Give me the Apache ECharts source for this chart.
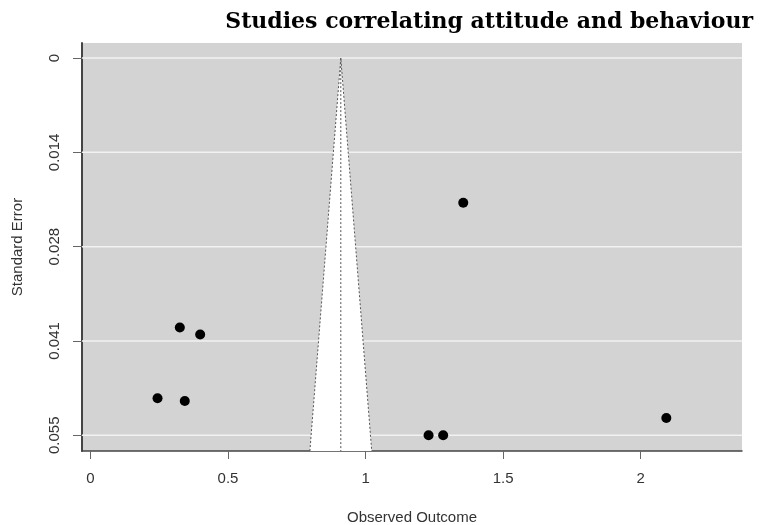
<!DOCTYPE html>
<html>
<head>
<meta charset="utf-8">
<script src="https://cdn.jsdelivr.net/npm/echarts@6/dist/echarts.min.js"></script>
<style>
  html, body { margin: 0; padding: 0; background: #fff; }
  #funnel { width: 760px; height: 525px; }
</style>
</head>
<body>
<div id="funnel"></div>
<script>
// 研究数据：效应值与标准误
var outcomes = [1.355, 0.325, 0.399, 0.244, 0.343, 1.229, 1.282, 2.093];
var stdErrors = [0.0211, 0.0393, 0.0403, 0.0496, 0.0500, 0.0550, 0.0550, 0.0525];
var estimate = 0.91; // 合并效应
// 刻度
var xTicks = [0, 0.5, 1, 1.5, 2];
var xTickLabels = ['0', '0.5', '1', '1.5', '2'];
var yTicks = [0, 0.01375, 0.0275, 0.04125, 0.055];
var yTickLabels = ['0', '0.014', '0.028', '0.041', '0.055'];

var xMin = -0.0305, xMax = 2.368;
var yMin = -0.0022, yMax = 0.0573;
var seBot = yMax; // 漏斗底部

var points = outcomes.map(function (x, i) { return [x, stdErrors[i]]; });
var funnelEdge = [
  [estimate - 1.96 * seBot, seBot],
  [estimate, 0],
  [estimate + 1.96 * seBot, seBot]
];

var axisFont = { fontFamily: 'Liberation Sans', fontSize: 15, color: '#333' };
var dotted = { color: '#555', type: [2, 2], width: 1 };

var myChart = echarts.init(document.getElementById('funnel'));
myChart.setOption({
  animation: false,
  backgroundColor: '#fff',
  title: {
    text: 'Studies correlating attitude and behaviour',
    right: 2,
    top: 6,
    textStyle: {
      fontFamily: 'DejaVu Serif',
      fontWeight: 'bold',
      fontSize: 22,
      color: '#000'
    }
  },
  grid: {
    left: 82,
    right: 18,
    top: 43,
    bottom: 74,
    outerBoundsMode: 'none',
    containLabel: false,
    show: true,
    backgroundColor: '#d3d3d3',
    borderWidth: 0
  },
  xAxis: {
    type: 'value',
    min: xMin,
    max: xMax,
    name: 'Observed Outcome',
    nameLocation: 'middle',
    nameGap: 59,
    nameTextStyle: axisFont,
    axisLine: { onZero: false, lineStyle: { color: '#444', width: 1.5 } },
    axisTick: { customValues: xTicks, length: 8, lineStyle: { color: '#666' } },
    axisLabel: Object.assign({
      customValues: xTicks,
      margin: 20,
      formatter: function (v) { return xTickLabels[xTicks.indexOf(v)]; }
    }, axisFont),
    splitLine: { show: false }
  },
  yAxis: {
    type: 'value',
    inverse: true,
    min: yMin,
    max: yMax,
    name: 'Standard Error',
    nameLocation: 'middle',
    nameGap: 57,
    nameTextStyle: axisFont,
    axisLine: { onZero: false, lineStyle: { color: '#444', width: 2 } },
    axisTick: { customValues: yTicks, length: 9, lineStyle: { color: '#666' } },
    axisLabel: Object.assign({
      customValues: yTicks,
      rotate: 90,
      margin: 20,
      formatter: function (v) { return yTickLabels[yTicks.indexOf(v)]; }
    }, axisFont),
    splitLine: { show: false }
  },
  series: [{
    // 网格线
    type: 'custom',
    z: 1,
    silent: true,
    data: yTicks,
    renderItem: function (params, api) {
      var v = api.value(0);
      var p1 = api.coord([xMin, v]);
      var p2 = api.coord([xMax, v]);
      return {
        type: 'line',
        shape: { x1: p1[0], y1: p1[1], x2: p2[0], y2: p2[1] },
        style: { stroke: '#f2f2f2', lineWidth: 1.5 }
      };
    },
    encode: { y: 0 }
  }, {
    // 漏斗区域
    type: 'custom',
    z: 2,
    silent: true,
    data: [[estimate]],
    renderItem: function (params, api) {
      var pts = funnelEdge.map(function (p) { return api.coord(p); });
      return {
        type: 'polygon',
        shape: { points: pts },
        style: { fill: '#fff', stroke: null }
      };
    }
  }, {
    type: 'line',
    z: 3,
    silent: true,
    symbol: 'none',
    data: funnelEdge,
    lineStyle: dotted
  }, {
    type: 'line',
    z: 3,
    silent: true,
    symbol: 'none',
    data: [[estimate, 0], [estimate, seBot]],
    lineStyle: dotted
  }, {
    type: 'scatter',
    z: 4,
    symbolSize: 10,
    itemStyle: { color: '#000', opacity: 1 },
    data: points
  }]
});
</script>
</body>
</html>
